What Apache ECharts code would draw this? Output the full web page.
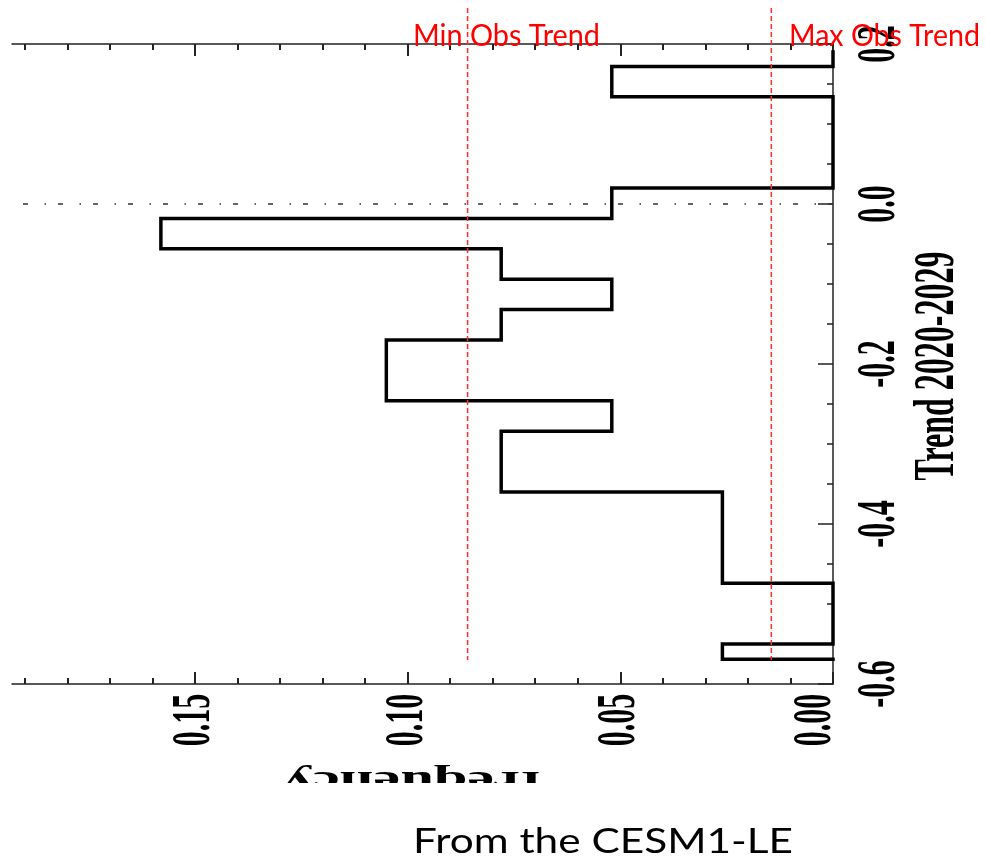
<!DOCTYPE html>
<html>
<head>
<meta charset="utf-8">
<script src="https://cdn.jsdelivr.net/npm/echarts@6/dist/echarts.min.js"></script>
<style>
  html, body { margin: 0; padding: 0; background: #fff; }
  #chart { width: 985px; height: 867px; }
</style>
</head>
<body>
<div id="chart"></div>
<script>
// Histogram of decadal trends (2020-2029), bins listed from top to bottom
const binEdges = [0.190, 0.172, 0.134, 0.096, 0.058, 0.020, -0.018, -0.056, -0.094, -0.132, -0.170,
                  -0.208, -0.246, -0.284, -0.322, -0.360, -0.398, -0.436, -0.474, -0.512, -0.550, -0.569];
const frequency = [0, 0.052, 0, 0, 0, 0.052, 0.158, 0.078, 0.052, 0.078, 0.105,
                   0.105, 0.052, 0.078, 0.078, 0.026, 0.026, 0.026, 0, 0, 0.026];

// Frequency axis ticks and labels
const freqMajorTicks = [0, 0.05, 0.10, 0.15];
const freqMinorTicks = [0.01, 0.02, 0.03, 0.04, 0.06, 0.07, 0.08, 0.09, 0.11, 0.12, 0.13, 0.14, 0.16, 0.17, 0.18, 0.19];
const freqTickLabels = ['0.00', '0.05', '0.10', '0.15'];

// Trend axis ticks and labels
const trendMajorTicks = [-0.6, -0.4, -0.2, 0.0, 0.2];
const trendMinorTicks = [-0.55, -0.5, -0.45, -0.35, -0.3, -0.25, -0.15, -0.1, -0.05, 0.05, 0.1, 0.15];
const trendTickLabels = ['-0.6', '-0.4', '-0.2', '0.0', '0.2'];

// Observed trend markers
const obsTrendNames = ['Min Obs Trend', 'Max Obs Trend'];
const obsTrendValues = [0.0859, 0.0145];

const freqAxisMax = 0.193;
const axisColor = '#222';

// Step outline of the histogram
const outline = [[0, binEdges[0]]];
for (let i = 0; i < frequency.length; i++) {
  outline.push([frequency[i], binEdges[i]]);
  outline.push([frequency[i], binEdges[i + 1]]);
}
outline.push([0, binEdges[binEdges.length - 1]]);

function freqAxis(position, ticks, len, showLine) {
  return {
    type: 'value', position: position, inverse: true, min: 0, max: freqAxisMax,
    axisLine: { show: showLine, onZero: false, lineStyle: { color: axisColor, width: 1.5 } },
    axisTick: { show: true, inside: true, length: len, customValues: ticks, lineStyle: { color: axisColor, width: 2 } },
    axisLabel: { show: false }, splitLine: { show: false }, minorTick: { show: false }
  };
}
function trendAxis(ticks, len, showLine) {
  return {
    type: 'value', position: 'right', min: -0.6, max: 0.2, interval: 0.2,
    axisLine: { show: showLine, onZero: false, lineStyle: { color: axisColor, width: 1.5 } },
    axisTick: { show: true, inside: true, length: len, customValues: ticks, lineStyle: { color: axisColor, width: 1.5 } },
    axisLabel: { show: false }, splitLine: { show: false }, minorTick: { show: false }
  };
}

const chart = echarts.init(document.getElementById('chart'), null, { renderer: 'canvas' });
chart.setOption({
  animation: false,
  backgroundColor: '#fff',
  grid: { left: 12, right: 152, top: 44, bottom: 183, containLabel: false, outerBoundsMode: 'none' },
  xAxis: [
    freqAxis('bottom', freqMajorTicks, 12, true),
    freqAxis('bottom', freqMinorTicks, 6, false),
    freqAxis('top', freqMajorTicks, 12, true),
    freqAxis('top', freqMinorTicks, 6, false)
  ],
  yAxis: [
    trendAxis(trendMajorTicks, 15, true),
    trendAxis(trendMinorTicks, 6, false)
  ],
  series: [{
    type: 'line',
    xAxisIndex: 0, yAxisIndex: 0,
    data: outline,
    symbol: 'none', showSymbol: false,
    lineStyle: { color: '#000', width: 3.5, join: 'miter', cap: 'square' },
    z: 3,
    markLine: {
      silent: true, animation: false,
      symbol: ['none', 'none'],
      label: { show: false },
      lineStyle: { color: '#333', width: 1.5, type: [5, 12, 1.5, 16.5] },
      data: [{ yAxis: 0 }]
    }
  }]
});

// Text helpers
const measureCtx = document.createElement('canvas').getContext('2d');
function textWidth(text, font) { measureCtx.font = font; return measureCtx.measureText(text).width; }

const serifFamily = '"Liberation Serif", "DejaVu Serif", serif';
const stretch = 1.8;
const sansFamily = 'Lato, "Open Sans", sans-serif';

function rotatedText(text, x, y, rotation, sx, sy, size, z) {
  return {
    type: 'text', x: x, y: y, rotation: rotation, scaleX: sx, scaleY: sy, z: z || 20,
    silent: true,
    style: { text: text, font: 'bold ' + size + 'px ' + serifFamily, fill: '#000',
             align: 'center', verticalAlign: 'middle', textAlign: 'center', textVerticalAlign: 'middle' }
  };
}
function sansText(text, left, centerY, size, width, color, z) {
  const font = size + 'px ' + sansFamily;
  const sx = width / textWidth(text, font);
  return {
    type: 'text', x: left, y: centerY, scaleX: sx, z: z || 100, silent: true,
    style: { text: text, font: font, fill: color,
             align: 'left', verticalAlign: 'middle', textAlign: 'left', textVerticalAlign: 'middle' }
  };
}

const gridRightPx = chart.convertToPixel({ xAxisIndex: 0 }, 0);
const gridTopPx = chart.convertToPixel({ yAxisIndex: 0 }, 0.2);
const gridBottomPx = chart.convertToPixel({ yAxisIndex: 0 }, -0.6);
const gridLeftPx = chart.convertToPixel({ xAxisIndex: 0 }, freqAxisMax);

const graphics = [];

// Frequency tick labels (rotated)
freqMajorTicks.forEach(function (v, i) {
  const px = Math.min(chart.convertToPixel({ xAxisIndex: 0 }, v), gridRightPx - 17);
  graphics.push(rotatedText(freqTickLabels[i], px, 720, Math.PI / 2, 1, stretch, 30));
});
// Trend tick labels (rotated)
trendMajorTicks.forEach(function (v, i) {
  const py = chart.convertToPixel({ yAxisIndex: 0 }, v);
  graphics.push(rotatedText(trendTickLabels[i], 880, py, Math.PI / 2, 1, stretch, 30));
});
// Axis titles
graphics.push(rotatedText('Trend 2020-2029', 938, (gridTopPx + gridBottomPx) / 2 + 2, Math.PI / 2, 1, stretch, 32));
graphics.push(rotatedText('frequency', (gridLeftPx + gridRightPx) / 2 - 11, 780, Math.PI, 1.95, 1, 31, 40));
graphics.push({
  type: 'rect', z: 50, silent: true,
  shape: { x: 200, y: 783, width: 450, height: 40 },
  style: { fill: '#fff' }
});

// Observed trend markers
obsTrendValues.forEach(function (v) {
  const px = chart.convertToPixel({ xAxisIndex: 0 }, v);
  graphics.push({
    type: 'line', z: 90, silent: true,
    shape: { x1: px, y1: 8, x2: px, y2: 660 },
    style: { stroke: '#ff2a2a', lineWidth: 1.5, lineDash: [5, 3] }
  });
});
graphics.push(sansText(obsTrendNames[0], 413, 36, 30, 187, '#ff0000', 110));
graphics.push(sansText(obsTrendNames[1], 789, 36, 30, 191, '#ff0000', 110));

// Caption
graphics.push(sansText('From the CESM1-LE', 413, 842, 35, 380, '#000', 120));

chart.setOption({ graphic: graphics });
</script>
</body>
</html>
